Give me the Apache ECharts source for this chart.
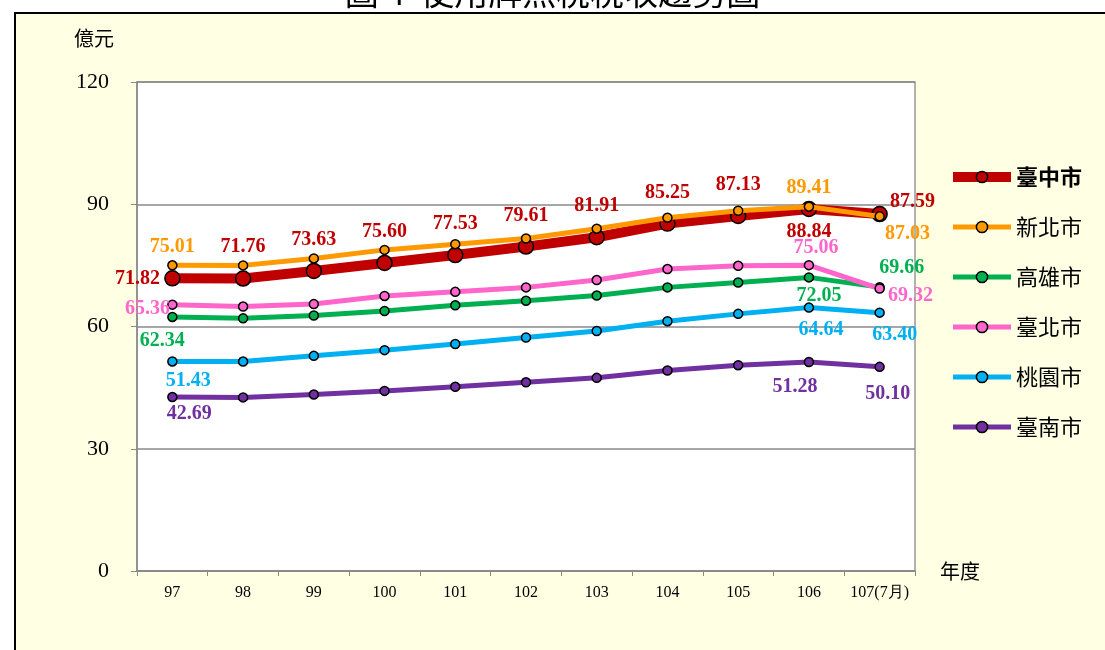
<!DOCTYPE html>
<html><head><meta charset="utf-8">
<script src="https://cdn.jsdelivr.net/npm/echarts@6/dist/echarts.min.js"></script>
<style>
html,body{margin:0;padding:0;background:#fff;}
#frame{position:absolute;left:14px;top:12px;width:1200px;height:700px;background:#FFFFE3;border-left:2px solid #000;border-top:2px solid #000;}
#chart{position:absolute;left:0;top:0;width:1105px;height:650px;}
</style></head>
<body>
<div id="frame"></div>
<div id="chart"></div>
<script>
const categories = ['97','98','99','100','101','102','103','104','105','106','107(7月)'];
const taichung  = [71.82,71.76,73.63,75.60,77.53,79.61,81.91,85.25,87.13,88.84,87.59];
const newTaipei = [75.01,75.0,76.7,78.8,80.2,81.6,84.0,86.7,88.4,89.41,87.03];
const kaohsiung = [62.34,62.0,62.7,63.8,65.2,66.3,67.6,69.6,70.8,72.05,69.66];
const taipei    = [65.36,64.9,65.5,67.5,68.5,69.6,71.4,74.1,74.9,75.06,69.32];
const taoyuan   = [51.43,51.4,52.8,54.2,55.7,57.3,58.9,61.3,63.1,64.64,63.40];
const tainan    = [42.69,42.6,43.3,44.2,45.2,46.3,47.4,49.2,50.5,51.28,50.10];
const seriesNames = ['臺中市','新北市','高雄市','臺北市','桃園市','臺南市'];
const yTicks = [0,30,60,90,120];

const colors = ['#C00000','#FF9900','#00B050','#FF66CC','#00B0F0','#7030A0'];
// label placement per series: index -> [position, distance, offset]
const labelCfg = [
  {all:['top',13,[0,0]], 0:['left',4,[0,0]], 9:['bottom',5,[0,0]], 10:['right',2,[0,-12]]},
  {0:['top',3,[0,0]], 9:['top',4,[0,0]], 10:['right',0,[0,17]]},
  {0:['bottom',9,[-10,0]], 9:['bottom',3,[10,0]], 10:['top',4,[22,0]]},
  {0:['left',-3,[0,4]], 9:['top',2,[7,0]], 10:['right',3,[0,7]]},
  {0:['bottom',4,[16,0]], 9:['bottom',7,[12,0]], 10:['bottom',7,[15,0]]},
  {0:['bottom',2,[17,0]], 9:['bottom',10,[-14,0]], 10:['bottom',12,[8,0]]}
];
const values = [taichung,newTaipei,kaohsiung,taipei,taoyuan,tainan];

function buildData(vals, si){
  const cfg = labelCfg[si];
  return vals.map((v,i)=>{
    const c = cfg[i] || cfg.all;
    if(!c) return {value:v};
    return {value:v, label:{show:true, position:c[0], distance:c[1], offset:c[2],
      formatter:(p)=>p.value.toFixed(2)}};
  });
}

const series = values.map((vals,si)=>({
  name: seriesNames[si],
  type:'line',
  data: buildData(vals,si),
  symbol:'circle',
  symbolSize: si===0?15:9,
  z: si===0?2:3+si,
  lineStyle:{color:colors[si], width: si===0?10:5},
  itemStyle:{color:colors[si], borderColor:'#000', borderWidth:1.5},
  label:{show:false, color:colors[si], fontFamily:'Liberation Serif', fontWeight:'bold', fontSize:20},
  emphasis:{disabled:true},
  animation:false
}));

const chart = echarts.init(document.getElementById('chart'));
chart.setOption({
  animation:false,
  textStyle:{fontFamily:'Liberation Serif'},
  graphic:[{type:'text', left:'center', top:-25, style:{text:'圖 4  使用牌照稅稅收趨勢圖', font:'34px "Noto Sans CJK TC"', fill:'#000'}, silent:true}],
  grid:{left:137, top:82, width:778, height:489, show:true, backgroundColor:'#fff', borderColor:'#999', borderWidth:1.5},
  legend:{
    orient:'vertical', left:943, top:161, itemWidth:58, itemHeight:14, itemGap:28,
    data:seriesNames.map((n,i)=>({name:n, lineStyle:{width:i===0?10:5, color:colors[i]}, itemStyle:{color:colors[i], borderColor:'#000', borderWidth:1.5}})),
    textStyle:{fontFamily:'Noto Sans CJK TC', fontSize:22, color:'#000', rich:{b:{fontFamily:'Noto Sans CJK TC', fontSize:22, fontWeight:'bold', color:'#000'}}},
    formatter:(n)=> n==='臺中市' ? '{b|'+n+'}' : n
  },
  xAxis:{
    type:'category', data:categories, boundaryGap:true,
    name:'年度', nameLocation:'end', nameGap:25,
    nameTextStyle:{fontFamily:'Noto Sans CJK TC', fontSize:20, color:'#000', padding:[18,0,0,0]},
    axisLine:{lineStyle:{color:'#888', width:1.5}},
    axisTick:{show:true, length:5, interval:0, lineStyle:{color:'#888'}},
    axisLabel:{color:'#000', fontFamily:'Liberation Serif', fontSize:16, margin:14, interval:0}
  },
  yAxis:{
    type:'value', min:yTicks[0], max:yTicks[yTicks.length-1], interval:30,
    name:'億元', nameLocation:'end', nameGap:34,
    nameTextStyle:{fontFamily:'Noto Sans CJK TC', fontSize:20, color:'#000', align:'right', padding:[0,23,0,0]},
    axisLine:{show:true, lineStyle:{color:'#888', width:1.5}},
    axisTick:{show:true, length:6, lineStyle:{color:'#888'}},
    axisLabel:{color:'#000', fontFamily:'Liberation Serif', fontSize:22, margin:28},
    splitLine:{lineStyle:{color:'#888', width:1.5}}
  },
  series: series
});
</script>
</body></html>
